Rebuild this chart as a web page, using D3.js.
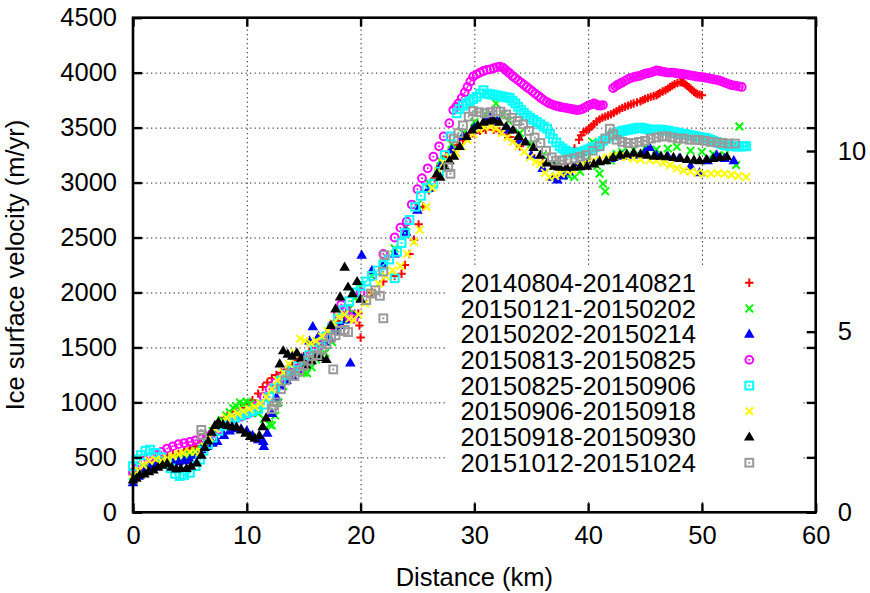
<!DOCTYPE html>
<html>
<head>
<meta charset="utf-8">
<script src="https://cdn.jsdelivr.net/npm/d3@7"></script>
<style>
  body { margin: 0; background: #fff; }
  text { font-family: "Liberation Sans", Arial, sans-serif; }
</style>
</head>
<body>
<div id="chart"></div>
<script>
// ice velocity profiles along the flowline, one array of [km, m/yr] per image pair
var s20140804 = [[0,340],[0.5,365],[1,390],[1.5,420],[2,450],[2.5,470],[3,500],[3.5,520],[4,530],[4.5,560],[5,580],[5.5,600],[6,640],[6.5,690],[7,740],[7.5,800],[8,860],[8.3,880],[8.7,890],[9,920],[9.5,950],[10,980],[10.5,1020],[11,1080],[11.4,1140],[11.8,1180],[12.2,1220],[12.6,1250],[13,1270],[13.5,1300],[14,1340],[14.5,1380],[15,1420],[15.5,1460],[16,1500],[16.5,1560],[17,1620],[17.5,1680],[18,1740],[18.5,1790],[19,1830],[19.8,1810],[19.9,1700],[20,1590],[21,2000],[22,2100],[23,2150],[23.6,2170],[23.9,2250],[24.3,2350],[24.7,2480],[25.1,2620],[25.5,2780],[26,2930],[26.5,3040],[27,3150],[27.5,3240],[28,3300],[28.5,3340],[29,3385],[29.5,3420],[30,3450],[30.5,3470],[31,3480],[31.7,3480],[32.2,3465],[32.7,3440],[33.1,3415],[33.6,3380],[34,3330],[35,3250],[36,3180],[37,3150],[38,3170],
    [38.8,3310],[39.2,3390],[39.4,3430],[39.6,3460],[39.85,3475],[40.1,3490],[40.3,3510],[40.5,3530],[40.75,3555],[41,3575],[41.25,3590],[41.5,3600],[41.75,3610],[42,3620],[42.25,3635],[42.5,3650],[42.75,3665],[43,3680],[43.25,3690],[43.5,3700],[43.75,3710],[44,3720],[44.3,3730],[44.6,3740],[44.8,3750],[45,3760],[45.25,3770],[45.5,3780],[45.75,3788],[46,3795],[46.15,3805],[46.3,3815],[46.55,3828],[46.8,3840],[47,3855],[47.2,3870],[47.4,3882],[47.6,3895],[47.85,3905],[48.1,3915],[48.25,3912],[48.4,3905],[48.55,3893],[48.7,3880],[48.85,3868],[49,3855],[49.15,3840],[49.3,3825],[49.45,3815],[49.6,3805],[49.8,3800],[50,3795]];
var s20150121 = [[0,330],[0.5,360],[1,400],[1.5,420],[2,440],[2.5,460],[3,470],[3.5,480],[4,490],[4.5,500],[5,520],[5.5,560],[6,620],[6.5,690],[7,740],[7.4,780],[7.8,840],[8.2,880],[8.5,910],[8.8,950],[9.1,965],[9.4,1000],[9.7,985],[10,1005],[10.3,990],[10.6,960],[11,900],[11.5,850],[12,800],[12.2,790],[12.5,880],[12.8,1000],[13.2,1150],[13.6,1230],[14,1260],[14.5,1280],[15,1270],[15.3,1265],[15.7,1320],[16.1,1390],[16.5,1430],[16.9,1450],[17.5,1550],[18,1650],[18.5,1750],[19,1850],[19.5,1950],[20,2050],[21,2150],[22,2250],[23,2400],[24,2600],[25,2800],[26,3000],[27,3200],[28,3350],[29,3450],[30,3550],[31,3620],[31.9,3720],[32.5,3620],[33,3560],[34,3450],[35,3350],[36,3250],[37,3150],[37.8,3100],[38.3,3060],[38.8,3050],[39.3,3100],[39.8,3200],[40.4,3370],[40.8,3150],[41,3080],[41.3,2990],[41.5,2920],[42,3200],[42.5,3260],[43,3280],[44,3300],[45,3320],[46,3300],[47,3310],[47.8,3325],[49,3290],[50,3280],[51,3260],[52,3250],[53,3160],[53.3,3510]];
var s20150202 = [[0,270],[0.5,330],[1,380],[1.5,410],[2,430],[2.5,440],[3,450],[3.5,455],[4,460],[4.5,470],[5,480],[5.5,520],[6,570],[6.5,600],[7,630],[7.4,645],[8,700],[8.5,740],[9,760],[9.5,760],[10,740],[10.5,700],[11,660],[11.45,645],[11.5,600],[11.8,720],[12.2,900],[12.6,1050],[13,1150],[13.5,1200],[14,1240],[14.5,1300],[15,1400],[15.5,1560],[15.8,1690],[16.3,1600],[16.8,1550],[17.3,1580],[17.8,1650],[18.3,1700],[18.7,1750],[19.1,1360],[19.5,1800],[20.1,2340],[21,2200],[22,2250],[23,2350],[24,2550],[25,2750],[26,2950],[27,3150],[28,3300],[29,3420],[30,3500],[31,3560],[31.4,3600],[32,3560],[33,3480],[34,3380],[35,3250],[36,3130],[36.9,3050],[37.3,3025],[37.8,3060],[38.3,3100],[39,3150],[40,3180],[41,3200],[42,3220],[43,3240],[44,3250],[45,3280],[45.4,3320],[46,3250],[47,3240],[48,3220],[49,3150],[49.8,3090],[50.5,3200],[51.3,3250],[52,3220],[52.8,3200]];
var s20150813 = [[0,360],[0.5,420],[1,470],[1.5,500],[2,520],[2.5,550],[3,580],[3.5,600],[4,620],[4.5,630],[5,640],[5.5,655],[6,670],[6.5,690],[7,720],[7.5,750],[8,790],[8.5,820],[9,850],[9.5,870],[10,890],[10.5,915],[11,980],[11.5,1050],[12,1120],[12.5,1180],[13,1220],[13.5,1250],[14,1280],[14.5,1310],[15,1360],[15.5,1420],[16,1470],[16.5,1520],[17,1600],[17.5,1700],[18,1800],[18.3,1890],[18.7,1850],[19,1780],[19.4,1760],[20,2000],[21,2150],[22,2350],[23,2500],[23.5,2590],[24.05,2645],[24.5,2800],[25,2940],[25.4,3040],[25.9,3130],[26.4,3235],[26.9,3330],[27.3,3420],[27.8,3540],
    [28.15,3660],[28.4,3690],[28.6,3720],[28.9,3770],[29.15,3820],[29.4,3870],[29.65,3920],[29.9,3965],[30.2,3985],[30.5,4000],[30.8,4015],[31.1,4025],[31.4,4030],[31.7,4040],[32,4050],[32.25,4055],[32.5,4045],[32.7,4030],[32.9,4010],[33.1,3995],[33.35,3970],[33.6,3950],[33.85,3930],[34.1,3910],[34.35,3890],[34.6,3870],[34.85,3850],[35.1,3830],[35.35,3810],[35.6,3790],[35.85,3770],[36.1,3750],[36.35,3735],[36.6,3720],[36.85,3710],[37.1,3700],[37.3,3695],[37.5,3690],[37.75,3685],[38,3680],[38.25,3675],[38.5,3670],[38.75,3665],[39,3660],[39.25,3662],[39.5,3670],[39.75,3685],[40,3700],[40.25,3710],[40.5,3720],[40.7,3712],[40.9,3700],[41.1,3700],[41.3,3705],
    [42.2,3860],[42.4,3875],[42.6,3890],[42.8,3900],[43,3910],[43.25,3925],[43.5,3940],[43.75,3950],[44,3960],[44.25,3965],[44.5,3970],[44.75,3980],[45,3990],[45.25,3995],[45.5,4000],[45.75,4010],[46,4020],[46.25,4015],[46.5,4010],[46.75,4005],[47,4000],[47.25,4000],[47.5,4000],[47.75,3995],[48,3990],[48.25,3988],[48.5,3985],[48.75,3980],[49,3975],[49.25,3970],[49.5,3965],[49.75,3962],[50,3960],[50.25,3955],[50.5,3950],[50.75,3945],[51,3940],[51.25,3935],[51.5,3930],[51.75,3920],[52,3910],[52.25,3900],[52.5,3890],[52.75,3885],[53,3880],[53.25,3875],[53.5,3870]];
var s20150825 = [[0,420],[0.3,480],[0.7,520],[1.1,560],[1.5,570],[2,540],[2.5,500],[3,440],[3.3,400],[3.7,350],[4.1,330],[4.5,340],[5,360],[5.5,420],[5.9,480],[6.2,560],[6.6,620],[7,680],[7.5,740],[8,790],[8.5,830],[9,860],[9.5,880],[10,900],[10.5,920],[11,940],[11.5,980],[12,1050],[12.5,1130],[13,1200],[13.5,1250],[14,1290],[14.5,1330],[15,1380],[15.5,1430],[16,1480],[16.5,1540],[17,1600],[17.5,1680],[18,1760],[18.5,1840],[19,1920],[19.5,2000],[20,2060],[20.5,2100],[21,2150],[21.5,2200],[22,2250],[22.5,2300],[23,2130],[23.2,2370],[23.6,2450],[23.9,2540],[24.3,2660],[24.8,2780],[25.3,2880],[25.8,2950],[26.4,2990],[26.9,3100],[27.4,3250],[27.9,3420],
    [28.45,3630],[28.7,3670],[29,3700],[29.3,3720],[29.6,3740],[29.9,3760],[30.2,3780],[30.5,3810],[30.8,3840],[31.1,3810],[31.35,3805],[31.6,3800],[31.85,3795],[32.1,3790],[32.35,3785],[32.6,3780],[32.85,3775],[33.1,3770],[33.35,3745],[33.6,3720],[33.85,3690],[34.1,3660],[34.35,3635],[34.6,3610],[34.9,3590],[35.2,3570],[35.5,3550],[35.8,3530],[36.1,3510],[36.4,3490],[36.65,3445],[36.9,3400],[37.2,3365],[37.5,3330],[37.75,3310],[38,3290],[38.25,3280],[38.5,3270],[38.75,3268],[39,3265],[39.25,3272],[39.5,3280],[39.75,3290],[40,3300],[40.2,3310],[40.4,3320],[40.6,3325],[40.8,3330],[41.05,3355],[41.3,3380],[41.6,3400],[41.9,3420],[42.2,3435],[42.5,3450],[42.75,3460],[43,3470],[43.25,3475],[43.5,3480],[43.75,3485],[44,3490],[44.25,3495],[44.5,3500],[44.75,3495],[45,3490],[45.25,3485],[45.5,3480],[45.75,3480],[46,3480],[46.25,3482],[46.5,3480],[46.75,3475],[47,3470],[47.25,3465],[47.5,3460],[47.75,3455],[48,3450],[48.25,3445],[48.5,3440],[48.75,3435],[49,3430],[49.25,3425],[49.5,3420],[49.75,3415],[50,3410],[50.25,3405],[50.5,3400],[50.75,3390],[51,3380],[51.25,3370],[51.5,3360],[51.75,3350],[52,3340],[52.25,3335],[52.5,3330],[52.75,3332],[53,3330],[53.25,3328],[53.5,3330],[53.7,3332],[53.9,3330]];
var s20150906 = [[0,300],[0.5,380],[0.9,430],[1.4,470],[2,480],[2.5,470],[3,490],[3.5,510],[4,530],[4.4,540],[5,550],[5.5,550],[5.9,550],[6.3,600],[6.7,680],[7.2,760],[7.7,820],[8.2,860],[8.7,880],[9.2,900],[9.7,920],[10.2,940],[10.7,960],[11.2,990],[11.7,1050],[12.2,1120],[12.7,1200],[13.2,1270],[13.7,1350],[14.2,1450],[14.7,1580],[15.1,1560],[15.6,1540],[16.1,1560],[16.6,1600],[17.1,1650],[17.6,1720],[18.1,1780],[18.6,1800],[19,1760],[19.4,1750],[19.8,1800],[20.4,1900],[21,2000],[21.6,2080],[22.2,2150],[22.8,2200],[23.5,2240],[24.1,2350],[24.7,2460],[25.2,2570],[25.8,2780],[26.3,2950],[26.8,3100],[27.3,3180],[27.8,3230],[28.4,3270],[28.9,3330],[29.4,3390],[29.9,3440],[30.4,3480],[30.9,3500],[31.4,3510],[31.9,3490],[32.4,3450],[32.9,3410],[33.4,3370],[33.9,3330],[34.4,3280],[34.9,3230],[35.4,3190],[35.8,3170],[36.2,3090],[36.6,3050],[37.1,3060],[37.6,3080],[38.2,3100],[38.7,3110],[39.3,3150],[39.9,3180],[40.5,3200],[41.1,3210],[41.7,3230],[42.2,3240],[42.8,3240],[43.4,3230],[44,3220],[44.6,3210],[45.4,3205],[46,3200],[46.6,3180],[47.2,3160],[47.8,3130],[48.4,3110],[49,3100],[49.6,3090],[50.2,3080],[50.8,3080],[51.4,3085],[52,3080],[52.6,3070],[53.2,3060],[53.9,3050]];
var s20150918 = [[0,295],[0.3,310],[0.6,340],[1,350],[1.4,370],[1.8,385],[2.2,410],[2.6,430],[3,445],[3.4,410],[3.8,395],[4.2,400],[4.7,400],[5.1,420],[5.6,450],[6,520],[6.3,590],[6.6,650],[6.9,730],[7.2,790],[7.5,820],[7.9,800],[8.3,790],[8.7,780],[9.1,775],[9.5,750],[9.9,720],[10.3,690],[10.7,675],[11.1,700],[11.4,780],[11.7,860],[12.9,1350],[13.2,1470],[13.6,1440],[14,1420],[14.4,1450],[14.8,1400],[15.2,1340],[15.7,1380],[16.1,1420],[16.5,1410],[17,1390],[17.4,1700],[17.8,1850],[18.2,1960],[18.6,2230],[18.9,2050],[19.3,1990],[19.7,2100],[20,1940],[26.7,3080],[27,3050],[27.4,3150],[27.8,3200],[28.2,3240],[28.7,3330],[29.3,3420],[29.8,3480],[30.3,3520],[30.8,3550],[31.3,3560],[31.7,3570],[32.2,3550],[32.8,3510],[33.4,3480],[33.9,3420],[34.5,3370],[35.2,3320],[35.8,3250],[36.4,3180],[37,3150],[37.5,3140],[38.1,3140],[38.7,3140],[39.3,3145],[39.9,3150],[40.5,3170],[41,3190],[41.6,3200],[42.2,3230],[42.8,3250],[43.4,3260],[44,3270],[44.6,3260],[45.2,3250],[45.8,3240],[46.4,3240],[46.9,3235],[47.5,3230],[48.1,3220],[48.7,3210],[49.3,3205],[49.8,3200],[50.4,3210],[51,3220],[51.6,3230],[52.2,3235]];
var s20151012 = [[6,750],[6.05,705],[12.2,940],[12.4,970],[12.6,1000],[13,1120],[13.4,1200],[13.8,1260],[14.2,1240],[14.6,1280],[15,1330],[15.4,1380],[15.8,1420],[16.2,1430],[16.6,1480],[17,1530],[17.4,1590],[17.6,1300],[17.8,1610],[18.2,1650],[18.6,1660],[18.9,1640],[20.5,1930],[20.9,1990],[21.3,2020],[21.7,1970],[22,1765],[22,2190],[22.1,2340],[27.7,3140],[27.9,3080],[28.2,3400],[28.6,3450],[29,3520],[29.5,3600],[29.9,3650],[30.4,3640],[30.9,3630],[31.4,3640],[31.9,3650],[32.3,3645],[32.8,3620],[33.3,3590],[33.8,3560],[34.3,3530],[34.8,3470],[35.3,3410],[35.8,3360],[36.3,3290],[36.8,3230],[37.2,3200],[37.7,3200],[38.2,3210],[38.8,3220],[39.3,3235],[39.8,3250],[40.4,3290],[41,3330],[41.5,3400],[41.9,3490],[42.2,3440],[42.5,3390],[43,3370],[43.5,3360],[44,3360],[44.5,3370],[45,3380],[45.5,3400],[46,3410],[46.5,3420],[46.9,3420],[47.4,3410],[47.9,3400],[48.4,3400],[48.9,3390],[49.4,3390],[49.8,3385],[50.3,3380],[50.8,3370],[51.3,3365],[51.8,3360],[52.3,3355],[52.9,3355]];

var seriesData = [s20140804, s20150121, s20150202, s20150813, s20150825, s20150906, s20150918, s20151012];
var seriesLabels = ["20140804-20140821", "20150121-20150202", "20150202-20150214", "20150813-20150825",
                    "20150825-20150906", "20150906-20150918", "20150918-20150930", "20151012-20151024"];
var seriesColors = ["#ff0000", "#00ff00", "#0000ff", "#ff00ff", "#00ffff", "#ffff00", "#000000", "#999999"];
var seriesMarkers = ["plus", "times", "triangle", "circle", "square", "times", "triangle", "square"];

var xTicks = [0, 10, 20, 30, 40, 50, 60];
var yTicks = [0, 500, 1000, 1500, 2000, 2500, 3000, 3500, 4000, 4500];
var y2Ticks = [0, 5, 10];

var W = 870, H = 593;
// plot frame (window.top is reserved, so prefixed names)
var pLeft = 133, pRight = 815.7, pTop = 17.7, pBottom = 512.3;
var fontSize = 25.5;

var svg = d3.select("#chart").append("svg")
    .attr("width", W)
    .attr("height", H);

svg.append("rect").attr("width", W).attr("height", H).attr("fill", "#fff");

var x = d3.scaleLinear().domain([0, 60]).range([pLeft, pRight]);
var y = d3.scaleLinear().domain([0, 4500]).range([pBottom, pTop]);
var y2 = d3.scaleLinear().domain([0, 13.69]).range([pBottom, pTop]);

// dotted grid
var gridX = svg.append("g")
    .attr("transform", `translate(0,${pBottom})`)
    .call(d3.axisBottom(x).tickValues(xTicks.slice(1, -1)).tickSize(-(pBottom - pTop)).tickFormat(""));
var gridY = svg.append("g")
    .attr("transform", `translate(${pLeft},0)`)
    .call(d3.axisLeft(y).tickValues(yTicks.slice(1, -1)).tickSize(-(pRight - pLeft)).tickFormat(""));
[gridX, gridY].forEach(g => {
    g.select(".domain").remove();
    g.selectAll("line").attr("stroke", "#222").attr("stroke-width", 1).attr("stroke-dasharray", "1.3,3.2");
});

// marker shapes
function drawMarker(g, type, color) {
    if (type === "plus") {
        g.append("path").attr("d", "M-4.2,0H4.2M0,-4.2V4.2")
            .attr("stroke", color).attr("stroke-width", 2).attr("fill", "none");
    } else if (type === "times") {
        g.append("path").attr("d", "M-3.8,-3.8L3.8,3.8M-3.8,3.8L3.8,-3.8")
            .attr("stroke", color).attr("stroke-width", 2).attr("fill", "none");
    } else if (type === "triangle") {
        g.append("path").attr("d", "M0,-5.6L5.3,3.6L-5.3,3.6Z").attr("fill", color);
    } else if (type === "circle") {
        g.append("circle").attr("r", 3.9).attr("fill", "none").attr("stroke", color).attr("stroke-width", 2);
        g.append("circle").attr("r", 1).attr("fill", color);
    } else if (type === "square") {
        g.append("rect").attr("x", -3.9).attr("y", -3.9).attr("width", 7.8).attr("height", 7.8)
            .attr("fill", "none").attr("stroke", color).attr("stroke-width", 2);
        g.append("rect").attr("x", -1).attr("y", -1).attr("width", 2).attr("height", 2).attr("fill", color);
    }
}

// data points
seriesData.forEach(function(data, i) {
    var layer = svg.append("g").attr("class", "series-" + i);
    layer.selectAll("g")
        .data(data)
        .enter()
        .append("g")
        .attr("transform", d => `translate(${x(d[0])},${y(d[1])})`)
        .each(function() { drawMarker(d3.select(this), seriesMarkers[i], seriesColors[i]); });
});

// opaque key
var keyRowY = d3.scaleLinear().domain([0, 7]).range([282.7, 462.7]);
svg.append("rect")
    .attr("x", 446).attr("y", 266)
    .attr("width", 355).attr("height", 236)
    .attr("fill", "#fff");
var key = svg.append("g");
seriesLabels.forEach(function(label, i) {
    key.append("text")
        .attr("x", 460.5)
        .attr("y", keyRowY(i))
        .attr("dy", "0.36em")
        .style("font-size", fontSize + "px")
        .text(label);
    var m = key.append("g").attr("transform", `translate(749.3,${keyRowY(i)})`);
    drawMarker(m, seriesMarkers[i], seriesColors[i]);
});

// axes with inward ticks
function styleAxis(g) {
    g.select(".domain").remove();
    g.selectAll("line").attr("stroke", "#000").attr("stroke-width", 2.4);
    g.selectAll("text").style("font-size", fontSize + "px").attr("fill", "#000");
}

var fmt = d3.format("d");
svg.append("g")
    .attr("transform", `translate(0,${pBottom})`)
    .call(d3.axisBottom(x).tickValues(xTicks).tickSize(-9).tickPadding(14).tickFormat(fmt))
    .call(styleAxis);
svg.append("g")
    .attr("transform", `translate(0,${pTop})`)
    .call(d3.axisTop(x).tickValues(xTicks).tickSize(-9).tickFormat(""))
    .call(styleAxis);
svg.append("g")
    .attr("transform", `translate(${pLeft},0)`)
    .call(d3.axisLeft(y).tickValues(yTicks).tickSize(-9).tickPadding(16).tickFormat(fmt))
    .call(styleAxis);
svg.append("g")
    .attr("transform", `translate(${pRight},0)`)
    .call(d3.axisRight(y).tickValues(yTicks).tickSize(-9).tickFormat(""))
    .call(styleAxis);
svg.append("g")
    .attr("transform", `translate(${pRight},0)`)
    .call(d3.axisRight(y2).tickValues(y2Ticks).tickSize(-9).tickPadding(22).tickFormat(fmt))
    .call(styleAxis);

// border
svg.append("rect")
    .attr("x", pLeft).attr("y", pTop)
    .attr("width", pRight - pLeft).attr("height", pBottom - pTop)
    .attr("fill", "none").attr("stroke", "#000").attr("stroke-width", 2.6);

// axis titles
svg.append("text")
    .attr("x", (pLeft + pRight) / 2)
    .attr("y", 586)
    .attr("text-anchor", "middle")
    .style("font-size", fontSize + "px")
    .text("Distance (km)");
svg.append("text")
    .attr("transform", `translate(23.5,${(pTop + pBottom) / 2}) rotate(-90)`)
    .attr("text-anchor", "middle")
    .style("font-size", fontSize + "px")
    .text("Ice surface velocity (m/yr)");
</script>
</body>
</html>
